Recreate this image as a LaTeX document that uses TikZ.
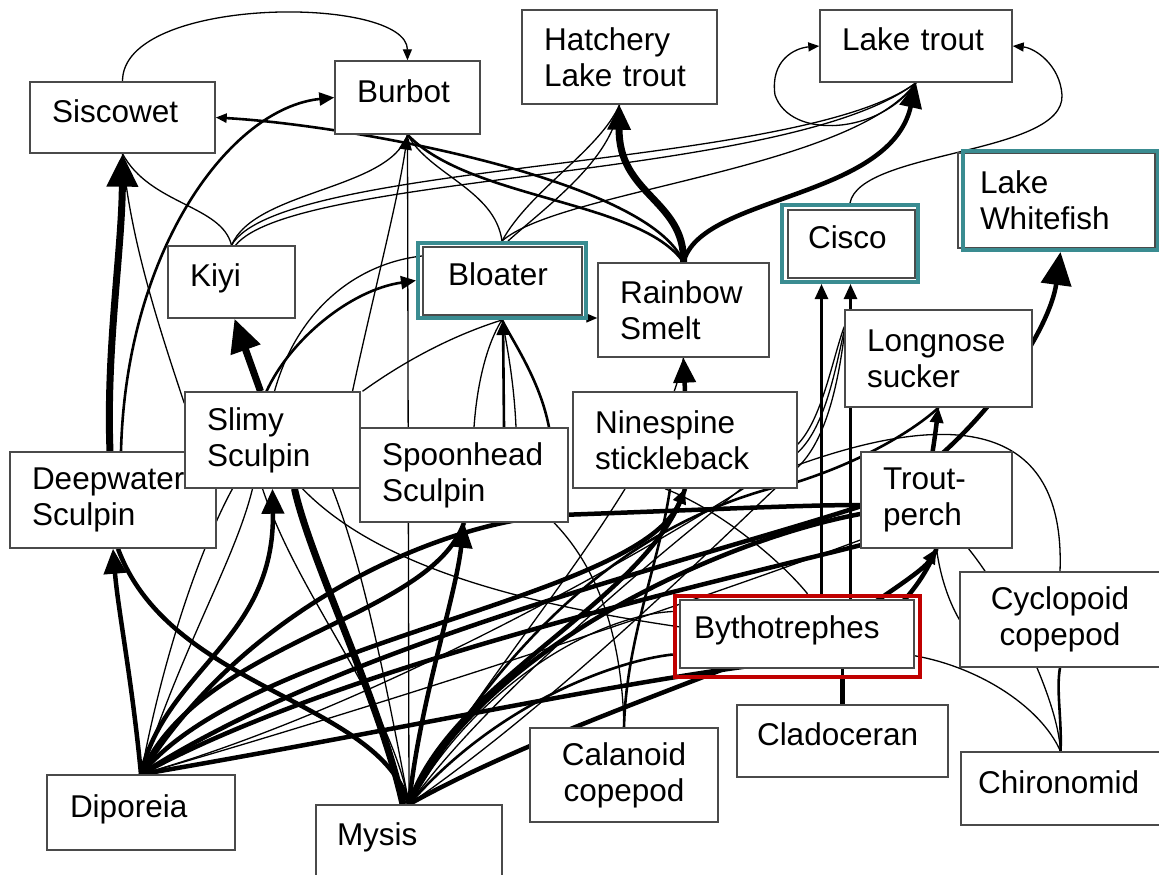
\documentclass[tikz,border=0pt]{standalone}
\usepackage{fontspec}
\setmainfont{Liberation Sans}
\usetikzlibrary{arrows.meta}
\definecolor{tealc}{HTML}{3A8C91}
\definecolor{redc}{HTML}{C00000}
\definecolor{boxc}{HTML}{4A4A4A}
\pgfdeclarelayer{back}
\pgfdeclarelayer{edges}
\pgfsetlayers{back,edges,main}
\tikzset{
 box/.style={draw=boxc,line width=1.4pt,fill=white,inner xsep=22pt,inner ysep=0pt,align=left,font=\fontsize{31.5}{36}\selectfont},
 sl/.style={text height=23pt,text depth=13.5pt},
 tealbox/.style={draw=tealc,line width=4pt,inner sep=0pt},
 redbox/.style={draw=redc,line width=4.5pt,inner sep=0pt},
 lw1/.style={line width=1.3pt},
 lw2/.style={line width=2.6pt},
 lw3/.style={line width=4.5pt},
 lw4/.style={line width=7pt},
 arT/.style={-{Triangle[length=11pt,width=9pt]}},
 arM/.style={-{Triangle[length=15pt,width=13pt]}},
 arB/.style={-{Triangle[length=25pt,width=22pt]}},
 arH/.style={-{Triangle[length=33pt,width=30pt]}},
}
\begin{document}
\begin{tikzpicture}[x=1pt,y=-1pt]
\useasboundingbox (0,0) rectangle (1159,875);
\begin{pgfonlayer}{back}\fill[white] (0,0) rectangle (1159,875);\end{pgfonlayer}

% ---------- nodes
\node[box,sl,text width=141pt,minimum height=71pt] (sis) at (122.5,117.5) {Siscowet};
\node[box,sl,text width=101pt,minimum height=73pt] (bur) at (407.5,97.5) {Burbot};
\node[box,text width=151pt,minimum height=94pt] (hat) at (619.5,57) {Hatchery\\Lake trout};
\node[box,sl,text width=148pt,minimum height=72pt] (lt) at (916,46) {Lake trout};
\node[box,text width=153pt,minimum height=95pt] (lwfi) at (1056.5,200.5) {Lake\\Whitefish};
\node[tealbox,minimum width=195pt,minimum height=99pt] (lwf) at (1060.5,200.5) {};
\node[box,sl,inner xsep=20pt,text width=87pt,minimum height=68pt] (cisi) at (851.5,244) {Cisco};
\node[tealbox,minimum width=136pt,minimum height=77pt] (cis) at (850,243.5) {};
\node[box,sl,text width=83pt,minimum height=72pt] (kiyi) at (231.5,282) {Kiyi};
\node[box,sl,inner xsep=25pt,text width=109pt,minimum height=68pt] (bloi) at (502.5,281) {Bloater};
\node[tealbox,minimum width=168pt,minimum height=75pt] (blo) at (502,280.5) {};
\node[box,text width=127pt,minimum height=94pt] (rs) at (683.5,310) {Rainbow\\Smelt};
\node[box,text width=143pt,minimum height=97pt] (ls) at (938.5,358.5) {Longnose\\sucker};
\node[box,text width=162pt,minimum height=96pt] (dw) at (113,500) {Deepwater\\Sculpin};
\node[box,text width=131pt,minimum height=96pt] (sli) at (272.5,440) {Slimy\\Sculpin};
\node[box,text width=164pt,minimum height=94pt] (spo) at (464,475) {Spoonhead\\Sculpin};
\node[box,text width=180pt,minimum height=96pt] (nin) at (685,440) {Ninespine\\stickleback};
\node[box,text width=107pt,minimum height=96pt] (tp) at (936.5,500) {Trout-\\perch};
\node[box,align=center,text width=156pt,minimum height=95pt] (cyc) at (1060,619.5) {Cyclopoid\\copepod};
\node[box,sl,inner xsep=14pt,text width=206pt,minimum height=68pt] (byti) at (797,634) {Bythotrephes};
\node[redbox,minimum width=245pt,minimum height=81pt] (byt) at (797.5,636.5) {};
\node[box,sl,inner xsep=20pt,text width=171pt,minimum height=72pt] (cla) at (842.5,741) {Cladoceran};
\node[box,sl,inner xsep=17pt,text width=165pt,minimum height=73pt] (chi) at (1060.5,788.5) {Chironomid};
\node[box,align=center,text width=144pt,minimum height=94pt] (cal) at (624,775) {Calanoid\\copepod};
\node[box,sl,inner xsep=23pt,text width=142pt,minimum height=75pt] (dip) at (141,812.5) {Diporeia};
\node[box,sl,inner xsep=21pt,text width=144pt,minimum height=72pt] (mys) at (409,841) {Mysis};

\coordinate (cl1) at ([xshift=8pt]cla.north);
\coordinate (bt1) at ([xshift=24pt]byt.north);

% ---------- connectors
\begin{pgfonlayer}{edges}
% top part
\draw[lw1,arT] (sis.north) .. controls (122,-5) and (407,-5) .. (bur.north);
\draw[lw4,arH] ([xshift=-3pt]dw.north) .. controls (106,350) and (122,250) .. (sis.south);
\draw[lw2,arM] ([xshift=8pt]dw.north) .. controls (126,250) and (230,108) .. (bur.west);
\draw[lw2,arT] (rs.north) .. controls (650,180) and (350,125) .. (sis.east);
\draw[lw1] (kiyi.north) .. controls (222,205) and (150,205) .. (sis.south);
\draw[lw1] (kiyi.north) .. controls (255,190) and (390,190) .. (bur.south);
\draw[lw1] (kiyi.north) .. controls (280,160) and (800,170) .. (lt.south);
\draw[lw1] ([xshift=4pt]kiyi.north) .. controls (295,172) and (790,180) .. (lt.south);
\draw[lw1] ([yshift=-12pt]sli.north west) .. controls (160,330) and (130,240) .. (sis.south);
\draw[lw1] (mys.north) -- (bur.south);
\draw[lw1,arM] ([xshift=80pt]sli.north) .. controls (372,300) and (398,200) .. (bur.south);
\draw[lw1] ([xshift=90pt]sli.north) .. controls (420,350) and (470,330) .. (blo.south);
\draw[lw1] (blo.north) .. controls (495,190) and (430,175) .. (bur.south);
\draw[lw1] (blo.north) .. controls (530,190) and (600,150) .. (hat.south);
\draw[lw1] ([xshift=6pt]blo.north) .. controls (548,205) and (612,160) .. (hat.south);
\draw[lw1] (blo.north) .. controls (560,190) and (850,170) .. (lt.south);
\draw[lw4,arB] (rs.north) .. controls (685,200) and (618,195) .. (hat.south);
\draw[lw3,arB] (rs.north) .. controls (700,195) and (890,200) .. (lt.south);
\draw[lw2] (rs.north) .. controls (640,200) and (470,200) .. (bur.south);
\draw[lw1,arT] (lt.south) .. controls (880,135) and (790,140) .. (775,95) .. controls (770,60) and (795,48) .. (lt.west);
\draw[lw1,arT] (cis.north) .. controls (860,150) and (1065,155) .. (1062,95) .. controls (1060,65) and (1035,48) .. (lt.east);
\draw[lw4,arH] ([xshift=-12pt]sli.north) -- ([xshift=3pt]kiyi.south);
\draw[lw2,arM] ([xshift=-6pt]sli.north) .. controls (290,340) and (350,290) .. (blo.west);
\draw[lw1,arT] ([xshift=2pt]sli.north) .. controls (300,300) and (370,255) .. (440,255) .. controls (520,255) and (560,318) .. ([yshift=-8pt]rs.west);
\draw[lw2,arM] ([xshift=40pt]spo.north) -- ([xshift=1pt]blo.south);
\draw[lw1] ([xshift=10pt]spo.north) .. controls (478,370) and (492,335) .. (blo.south);
\draw[lw1] ([xshift=52pt]spo.north) .. controls (514,380) and (506,340) .. (blo.south);
\draw[lw2] ([xshift=85pt]spo.north) .. controls (540,380) and (512,340) .. (blo.south);
\draw[lw3,arB] (nin.north) -- (rs.south);
% Cisco
\draw[lw3] (cla.north) -- (cla.north |- byt.south);
\draw[lw2,arM] (cla.north) -- (cla.north |- byt.center) -- (cl1 |- byt.center) -- (cl1 |- cis.south);
\draw[lw2,arM] (bt1) -- (bt1 |- cis.south);
% whitefish, longnose
\draw[lw3,arH] (dip.north) .. controls (350,640) and (700,560) .. (880,500) .. controls (980,440) and (1050,330) .. (lwf.south);
\draw[lw3,arM] (dip.north) .. controls (350,660) and (750,575) .. (900,535) .. controls (925,510) and (932,460) .. (ls.south);
\draw[lw2] (mys.north) .. controls (500,650) and (620,520) .. (797,482) .. controls (860,462) and (912,432) .. (ls.south);
\draw[lw1] (dip.north) .. controls (400,700) and (700,520) .. (795,455) .. controls (825,430) and (835,370) .. ([yshift=28pt]ls.west);
\draw[lw1] (mys.north) .. controls (500,680) and (700,520) .. (797,445) .. controls (822,420) and (832,360) .. ([yshift=32pt]ls.west);
\draw[lw1] (mys.north) .. controls (560,700) and (720,540) .. (800,465) .. controls (826,438) and (838,385) .. ([yshift=24pt]ls.west);
% trout-perch
\draw[lw3] (dip.north) .. controls (250,600) and (450,520) .. (560,515) .. controls (700,510) and (800,505) .. ([yshift=-5pt]tp.west);
\draw[lw3] (mys.north) .. controls (480,650) and (720,540) .. ([yshift=-14pt]tp.west);
\draw[lw1] (dip.north) .. controls (400,700) and (700,600) .. ([yshift=-40pt]tp.west);
\draw[lw3,arM] (mys.north) .. controls (560,720) and (800,650) .. (875,602) .. controls (900,585) and (925,568) .. (tp.south);
\draw[lw3] (dip.north) .. controls (400,730) and (650,675) .. (800,660) .. controls (880,640) and (920,590) .. (tp.south);
\draw[lw1] (cyc.west) .. controls (948,600) and (940,575) .. (tp.south);
\draw[lw1] (chi.north) .. controls (1058,700) and (1010,600) .. ([xshift=32pt]tp.south);
\draw[lw1] (cyc.north) .. controls (1065,440) and (980,400) .. ([yshift=-25pt]nin.east);
\draw[lw2] (chi.north) .. controls (1062,720) and (1056,690) .. (cyc.south);
\draw[lw1] (chi.north) .. controls (1040,705) and (975,665) .. (910,655) .. controls (700,630) and (420,610) .. ([xshift=30pt]sli.south);
\draw[lw1] ([xshift=10pt]byt.north) .. controls (780,560) and (720,510) .. ([xshift=-20pt]nin.south);
% calanoid
\draw[lw1] (cal.north) .. controls (622,640) and (600,570) .. ([xshift=90pt]spo.south);
\draw[lw2] (cal.north) .. controls (626,640) and (660,560) .. ([xshift=-15pt]nin.south);
% diporeia fan
\draw[lw3,arB] (dip.north) .. controls (132,680) and (118,610) .. (dw.south);
\draw[lw3,arB] (dip.north) .. controls (165,670) and (275,640) .. (sli.south);
\draw[lw3] (dip.north) .. controls (200,640) and (430,620) .. (spo.south);
\draw[lw3,arM] (dip.north) .. controls (250,640) and (640,600) .. (nin.south);
\draw[lw1] (dip.north) .. controls (170,620) and (215,520) .. ([xshift=-40pt]sli.south);
\draw[lw1] (dip.north) .. controls (185,640) and (235,560) .. ([xshift=-20pt]sli.south);
% mysis fan
\draw[lw4] ([xshift=-6pt]mys.north) .. controls (380,700) and (310,560) .. ([xshift=22pt]sli.south);
\draw[lw3] (mys.north) .. controls (380,700) and (170,690) .. ([xshift=5pt]dw.south);
\draw[lw3,arB] (mys.north) .. controls (420,700) and (455,600) .. (spo.south);
\draw[lw3] (mys.north) .. controls (450,680) and (650,600) .. (nin.south);
\draw[lw1] (mys.north) .. controls (500,650) and (660,480) .. (rs.south);
\draw[lw1] (mys.north) .. controls (390,700) and (300,600) .. ([xshift=-10pt]sli.south);
\draw[lw1] (mys.north) .. controls (380,650) and (360,560) .. ([xshift=60pt]sli.south);
\draw[lw1] (mys.north) .. controls (480,680) and (600,615) .. ([yshift=25pt]byt.west);
\draw[lw2] (mys.north) .. controls (500,700) and (620,660) .. ([yshift=-18pt]byt.west);
\end{pgfonlayer}
\end{tikzpicture}
\end{document}
